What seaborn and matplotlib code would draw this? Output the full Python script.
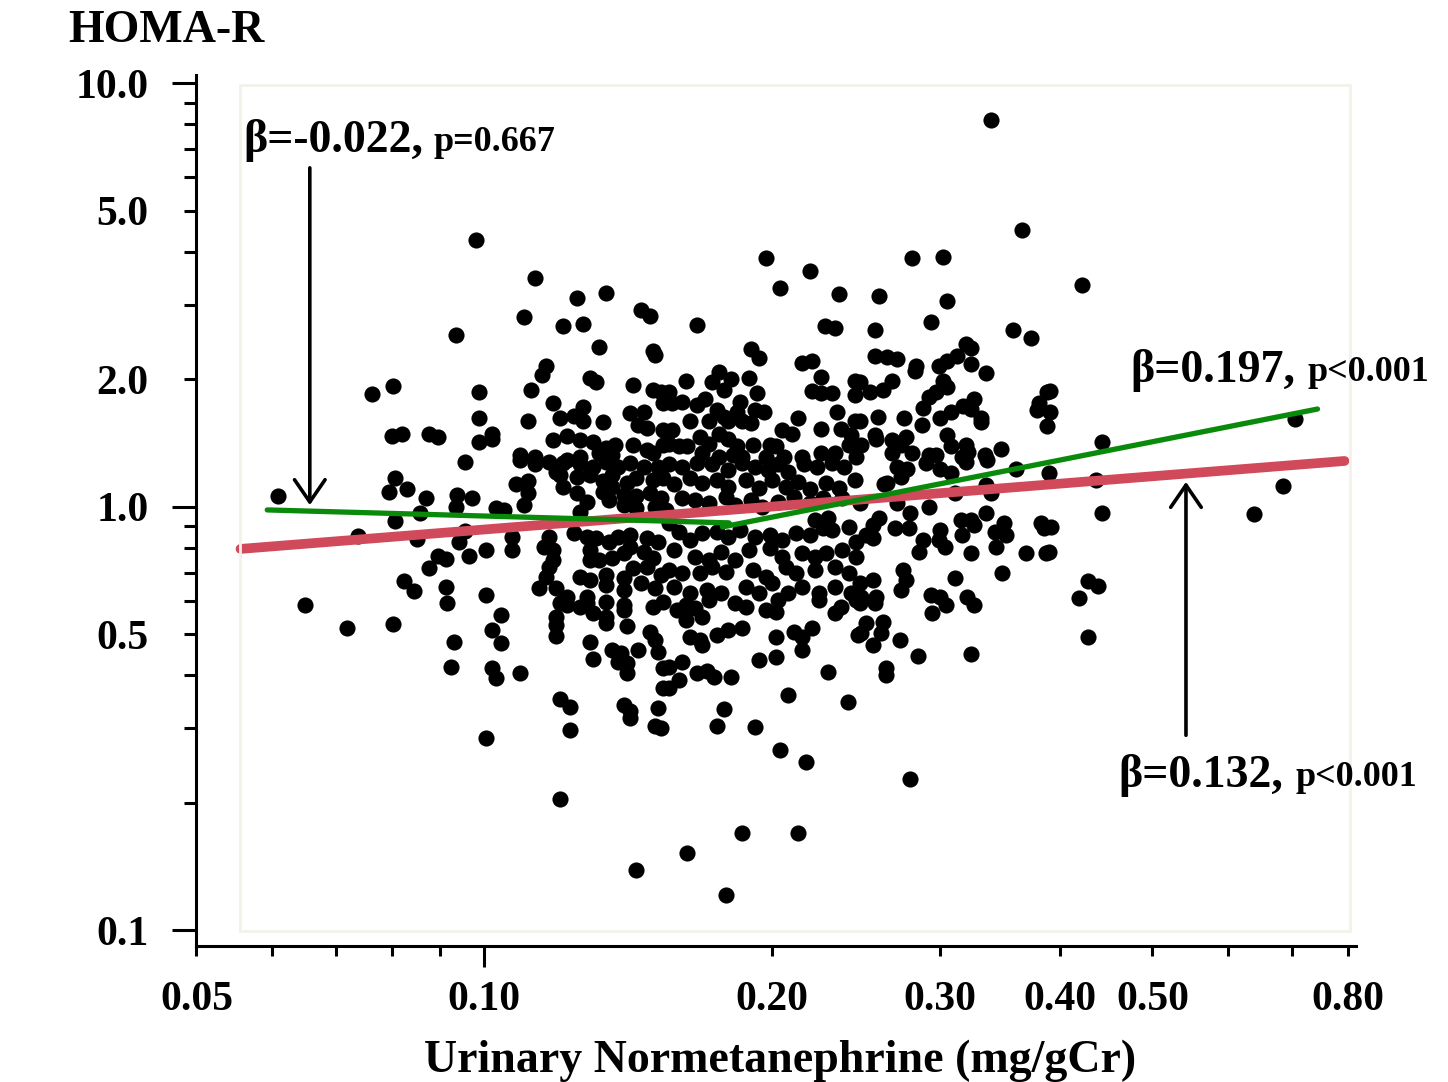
import numpy as np
import pandas as pd
import seaborn as sns
import matplotlib.pyplot as plt
from matplotlib.ticker import LogLocator, FuncFormatter
from matplotlib.patches import Rectangle

# upper-left part of the main cloud
nmn_a = [0.121, 0.127, 0.132, 0.150, 0.151, 0.116, 0.115, 0.129, 0.131, 0.143,
         0.0988, 0.112, 0.150, 0.153, 0.154, 0.118, 0.127, 0.124, 0.120, 0.127,
         0.142, 0.147, 0.111, 0.133, 0.145, 0.148, 0.0988, 0.102, 0.102, 0.0988,
         0.118, 0.122, 0.126, 0.130, 0.154, 0.109, 0.134, 0.137, 0.132, 0.136,
         0.143, 0.148, 0.150, 0.154, 0.113, 0.122, 0.126]
homa_a = [2.67, 2.71, 2.39, 2.34, 2.29, 2.15, 2.05, 2.02, 1.97, 1.94,
          1.87, 1.89, 1.89, 1.87, 1.76, 1.76, 1.72, 1.64, 1.62, 1.60,
          1.67, 1.68, 1.60, 1.585, 1.56, 1.54, 1.62, 1.49, 1.45, 1.42,
          1.44, 1.47, 1.44, 1.42, 1.52, 1.33, 1.38, 1.40, 1.34, 1.33,
          1.40, 1.36, 1.34, 1.40, 1.31, 1.29, 1.31]

# upper-middle
nmn_b = [0.167, 0.227, 0.233, 0.190, 0.194, 0.215, 0.220, 0.225, 0.244, 0.176,
         0.181, 0.173, 0.178, 0.189, 0.1625, 0.220, 0.225, 0.231, 0.193, 0.244,
         0.156, 0.157, 0.161, 0.167, 0.170, 0.185, 0.184, 0.192, 0.196, 0.175,
         0.178, 0.172, 0.180, 0.186, 0.190, 0.164, 0.234, 0.213, 0.244, 0.225,
         0.236, 0.242, 0.205, 0.210, 0.157, 0.156, 0.160, 0.163, 0.168, 0.172,
         0.176, 0.180, 0.184, 0.191, 0.199, 0.202, 0.241, 0.169, 0.176, 0.182,
         0.186, 0.215, 0.225, 0.233, 0.245, 0.197, 0.206]
homa_b = [2.69, 2.67, 2.65, 2.36, 2.25, 2.19, 2.21, 2.03, 1.98, 2.08,
          2.00, 1.97, 1.89, 2.02, 1.98, 1.88, 1.86, 1.86, 1.86, 1.84,
          1.87, 1.76, 1.77, 1.74, 1.80, 1.77, 1.68, 1.69, 1.68, 1.69,
          1.63, 1.60, 1.60, 1.60, 1.58, 1.60, 1.68, 1.62, 1.60, 1.53,
          1.53, 1.48, 1.52, 1.49, 1.52, 1.41, 1.39, 1.39, 1.46, 1.41,
          1.49, 1.45, 1.39, 1.40, 1.40, 1.39, 1.40, 1.34, 1.31, 1.33,
          1.31, 1.31, 1.34, 1.34, 1.31, 1.31, 1.31]

# upper-right
nmn_c = [0.293, 0.256, 0.357, 0.373, 0.319, 0.323, 0.256, 0.264, 0.270, 0.312,
         0.305, 0.299, 0.283, 0.282, 0.323, 0.335, 0.247, 0.253, 0.261, 0.267,
         0.302, 0.305, 0.297, 0.292, 0.325, 0.317, 0.323, 0.331, 0.331, 0.288,
         0.308, 0.300, 0.388, 0.380, 0.379, 0.388, 0.258, 0.275, 0.287, 0.247,
         0.256, 0.257, 0.305, 0.267, 0.276, 0.273, 0.248, 0.308, 0.319, 0.321,
         0.347, 0.267, 0.280, 0.292, 0.297, 0.334, 0.316]
homa_c = [2.74, 2.62, 2.62, 2.50, 2.43, 2.37, 2.27, 2.26, 2.24, 2.27,
          2.21, 2.15, 2.15, 2.09, 2.18, 2.07, 1.97, 1.87, 1.89, 1.98,
          1.98, 1.92, 1.87, 1.82, 1.80, 1.73, 1.70, 1.62, 1.585, 1.71,
          1.68, 1.62, 1.87, 1.76, 1.69, 1.55, 1.63, 1.62, 1.56, 1.60,
          1.48, 1.45, 1.48, 1.44, 1.46, 1.40, 1.40, 1.39, 1.40, 1.35,
          1.37, 1.34, 1.34, 1.33, 1.33, 1.33, 1.31]

# middle-left
nmn_d = [0.109, 0.113, 0.117, 0.121, 0.126, 0.130, 0.134, 0.138, 0.142, 0.147,
         0.152, 0.108, 0.111, 0.111, 0.120, 0.119, 0.125, 0.129, 0.133, 0.136,
         0.136, 0.141, 0.144, 0.150, 0.154, 0.121, 0.125, 0.128, 0.133, 0.135,
         0.140, 0.144, 0.149, 0.153, 0.110, 0.103, 0.105, 0.126, 0.140, 0.144,
         0.151, 0.155, 0.107, 0.1005, 0.107, 0.117, 0.1155, 0.118, 0.118, 0.117,
         0.124, 0.128, 0.131, 0.129, 0.135, 0.138, 0.142, 0.148, 0.152, 0.140,
         0.142, 0.147, 0.150, 0.129, 0.132, 0.136, 0.143, 0.148, 0.153, 0.116,
         0.114, 0.119, 0.126, 0.129, 0.134, 0.134, 0.140, 0.140, 0.146, 0.151,
         0.1005, 0.122, 0.128]
homa_d = [1.29, 1.26, 1.28, 1.27, 1.26, 1.24, 1.28, 1.24, 1.27, 1.24,
          1.24, 1.13, 1.15, 1.08, 1.19, 1.21, 1.18, 1.19, 1.15, 1.19,
          1.115, 1.14, 1.17, 1.16, 1.17, 1.115, 1.08, 1.03, 1.085, 1.04,
          1.07, 1.06, 1.08, 1.05, 1.01, 0.995, 0.985, 0.973, 1.01, 0.995,
          1.00, 0.985, 0.849, 0.79, 0.79, 0.849, 0.804, 0.79, 0.75, 0.721,
          0.868, 0.849, 0.845, 0.79, 0.827, 0.849, 0.858, 0.845, 0.827, 0.779,
          0.804, 0.783, 0.758, 0.75, 0.75, 0.758, 0.717, 0.721, 0.69, 0.683,
          0.644, 0.644, 0.683, 0.672, 0.69, 0.654, 0.679, 0.637, 0.661, 0.644,
          0.62, 0.613, 0.613]

# middle, densest part
nmn_e = [0.156, 0.161, 0.167, 0.173, 0.180, 0.186, 0.192, 0.198, 0.203, 0.208,
         0.216, 0.223, 0.231, 0.238,
         0.158, 0.164, 0.169, 0.175, 0.180, 0.188, 0.194, 0.200, 0.207, 0.213,
         0.219, 0.228, 0.235, 0.244,
         0.161, 0.166, 0.172, 0.179, 0.183, 0.190, 0.195, 0.203, 0.211, 0.219,
         0.226, 0.237,
         0.156, 0.222, 0.229, 0.241,
         0.160, 0.164, 0.169, 0.175, 0.180, 0.185, 0.192, 0.199, 0.205, 0.212,
         0.219, 0.226, 0.231, 0.245,
         0.158, 0.166, 0.172, 0.177, 0.183, 0.189, 0.199, 0.205, 0.215, 0.222,
         0.228, 0.237, 0.245,
         0.156, 0.161, 0.168, 0.173, 0.179, 0.191, 0.197, 0.207, 0.212, 0.222,
         0.233, 0.241,
         0.158, 0.164, 0.171, 0.177, 0.188, 0.194, 0.200, 0.208, 0.215, 0.224,
         0.233, 0.242]
homa_e = [1.26, 1.24, 1.27, 1.26, 1.22, 1.27, 1.24, 1.22, 1.26, 1.21,
          1.26, 1.24, 1.27, 1.24,
          1.13, 1.17, 1.14, 1.16, 1.115, 1.16, 1.11, 1.16, 1.115, 1.146,
          1.10, 1.14, 1.11, 1.16,
          1.05, 1.04, 1.02, 1.056, 1.01, 1.04, 1.00, 1.03, 1.056, 1.02,
          1.05, 1.05,
          0.917, 0.93, 0.94, 0.897,
          0.873, 0.836, 0.868, 0.873, 0.849, 0.88, 0.849, 0.858, 0.836, 0.868,
          0.858, 0.892, 0.882, 0.827,
          0.79, 0.762, 0.75, 0.783, 0.75, 0.79, 0.80, 0.762, 0.779, 0.762,
          0.779, 0.79, 0.762,
          0.71, 0.698, 0.698, 0.721, 0.702, 0.71, 0.683, 0.721, 0.698, 0.71,
          0.721, 0.698,
          0.647, 0.627, 0.637, 0.627, 0.647, 0.627, 0.661, 0.627, 0.647, 0.627,
          0.647, 0.627]

# middle-right
nmn_f = [0.270, 0.277, 0.273, 0.264, 0.262, 0.290, 0.300, 0.308, 0.319, 0.336,
         0.360, 0.335, 0.339, 0.311, 0.247, 0.270, 0.292, 0.279, 0.278, 0.259,
         0.255, 0.251, 0.255, 0.269, 0.315, 0.323, 0.325, 0.335, 0.350, 0.342,
         0.351, 0.382, 0.385, 0.300, 0.299, 0.303, 0.288, 0.285, 0.316, 0.323,
         0.343, 0.369, 0.387, 0.274, 0.276, 0.273, 0.311, 0.348, 0.247, 0.255,
         0.248, 0.257, 0.293, 0.300, 0.320]
homa_f = [1.243, 1.226, 1.177, 1.14, 1.13, 1.27, 1.226, 1.20, 1.277, 1.29,
          1.226, 1.127, 1.08, 1.08, 1.02, 1.02, 1.00, 0.968, 0.892, 0.94,
          0.907, 0.858, 0.845, 0.892, 0.93, 0.93, 0.907, 0.968, 0.917, 0.873,
          0.858, 0.917, 0.892, 0.882, 0.836, 0.804, 0.836, 0.783, 0.858, 0.779,
          0.804, 0.779, 0.779, 0.71, 0.672, 0.637, 0.679, 0.698, 0.661, 0.672,
          0.613, 0.613, 0.62, 0.613, 0.613]

# lower-left
nmn_g = [0.120, 0.122, 0.126, 0.128, 0.130, 0.134, 0.140, 0.140, 0.150, 0.154,
         0.104, 0.119, 0.119, 0.119, 0.134, 0.134, 0.141, 0.102, 0.104, 0.129,
         0.136, 0.139, 0.138, 0.141, 0.141, 0.145, 0.149, 0.151, 0.152, 0.130,
         0.102, 0.103, 0.109, 0.154, 0.154, 0.120, 0.123, 0.140, 0.142, 0.142,
         0.152, 0.151, 0.153, 0.123, 0.1005]
homa_g = [0.593, 0.586, 0.58, 0.593, 0.562, 0.596, 0.586, 0.571, 0.58, 0.596,
          0.556, 0.55, 0.527, 0.497, 0.55, 0.532, 0.524, 0.512, 0.477, 0.48,
          0.459, 0.451, 0.43, 0.428, 0.405, 0.459, 0.507, 0.485, 0.454, 0.437,
          0.417, 0.394, 0.405, 0.417, 0.373, 0.352, 0.337, 0.34, 0.33, 0.317,
          0.335, 0.304, 0.30, 0.297, 0.284]

# lower-middle
nmn_h = [0.159, 0.1625, 0.1625, 0.169, 0.166, 0.172, 0.183, 0.188, 0.197, 0.202,
         0.203, 0.224, 0.233, 0.236, 0.245, 0.246, 0.164, 0.168, 0.169, 0.175,
         0.180, 0.186, 0.202, 0.211, 0.215, 0.220, 0.215, 0.156, 0.161, 0.160,
         0.156, 0.167, 0.171, 0.174, 0.181, 0.194, 0.202, 0.229, 0.208, 0.240,
         0.178, 0.175, 0.192]
homa_h = [0.571, 0.586, 0.541, 0.55, 0.577, 0.603, 0.593, 0.58, 0.571, 0.565,
          0.603, 0.603, 0.562, 0.58, 0.603, 0.498, 0.493, 0.485, 0.471, 0.498,
          0.512, 0.518, 0.493, 0.507, 0.493, 0.518, 0.459, 0.419, 0.43, 0.39,
          0.373, 0.405, 0.41, 0.396, 0.396, 0.434, 0.442, 0.407, 0.359, 0.346,
          0.333, 0.304, 0.302]

# lower-right
nmn_i = [0.247, 0.256, 0.304, 0.294, 0.325, 0.251, 0.261, 0.260, 0.248, 0.255,
         0.272, 0.284, 0.323, 0.263, 0.263]
homa_i = [0.593, 0.593, 0.586, 0.562, 0.586, 0.532, 0.535, 0.504, 0.504, 0.471,
          0.485, 0.445, 0.45, 0.417, 0.401]

# sparse left tail
nmn_j = [0.098, 0.0935, 0.0763, 0.0802, 0.0800, 0.0821, 0.0876, 0.0894, 0.0955, 0.0806,
         0.0796, 0.0831, 0.0870, 0.0608, 0.0937, 0.0935, 0.0972, 0.0856, 0.0806, 0.0737,
         0.0850, 0.0894, 0.0913, 0.0876, 0.0955, 0.0942, 0.0965, 0.0825, 0.0845, 0.0913,
         0.0915, 0.0649, 0.0718, 0.0802, 0.0930, 0.0924]
homa_j = [4.27, 2.55, 1.85, 1.93, 1.47, 1.49, 1.49, 1.46, 1.28, 1.17,
          1.085, 1.10, 1.05, 1.06, 1.07, 1.00, 1.05, 0.968, 0.927, 0.854,
          0.84, 0.766, 0.754, 0.718, 0.878, 0.827, 0.766, 0.669, 0.633, 0.647,
          0.593, 0.587, 0.518, 0.529, 0.48, 0.419]

# sparse right tail
nmn_k = [0.422, 0.391, 0.391, 0.443, 0.390, 0.436, 0.443, 0.392, 0.390, 0.428,
         0.438, 0.419, 0.428, 0.704, 0.684, 0.639]
homa_k = [3.34, 1.88, 1.68, 1.42, 1.20, 1.16, 0.968, 0.897, 0.783, 0.669,
          0.651, 0.610, 0.493, 1.61, 1.12, 0.963]

# high outliers
nmn_l = [0.339, 0.365, 0.197, 0.219, 0.280, 0.302, 0.113, 0.204, 0.235, 0.259,
         0.305, 0.125, 0.134, 0.146, 0.149, 0.110]
homa_l = [8.20, 4.51, 3.87, 3.61, 3.87, 3.89, 3.47, 3.29, 3.18, 3.15,
          3.06, 3.12, 3.20, 2.92, 2.82, 2.81]

# low outliers
nmn_m = [0.204, 0.217, 0.279, 0.120, 0.186, 0.213, 0.163, 0.144, 0.179]
homa_m = [0.267, 0.25, 0.228, 0.204, 0.170, 0.170, 0.152, 0.139, 0.121]

# fitted lines
red_x = [0.0556, 0.794]
red_y = [0.796, 1.284]
green_x = [0.0593, 0.1803, 0.1775, 0.744]
green_y = [0.984, 0.917, 0.897, 1.703]

df = pd.DataFrame({
    'nmn': nmn_a + nmn_b + nmn_c + nmn_d + nmn_e + nmn_f + nmn_g + nmn_h
           + nmn_i + nmn_j + nmn_k + nmn_l + nmn_m,
    'homa': homa_a + homa_b + homa_c + homa_d + homa_e + homa_f + homa_g + homa_h
            + homa_i + homa_j + homa_k + homa_l + homa_m,
})

sns.set_style("white")
plt.rcParams['font.family'] = ['Liberation Serif', 'DejaVu Serif']
plt.rcParams['font.weight'] = 'bold'
plt.rcParams['text.color'] = 'black'

W, H = 1448, 1082
fig = plt.figure(figsize=(W / 100, H / 100), dpi=100)
ax = fig.add_axes([196 / W, 1 - 946 / H, 1160 / W, 871 / H])

# faint panel frame seen in the original
fig.patches.append(Rectangle((240 / W, 1 - 931 / H), 1110 / W, 846 / H,
                             transform=fig.transFigure, fill=False,
                             edgecolor='#f2f2ea', lw=2, zorder=0))

ax.set_xscale('log')
ax.set_yscale('log')

sns.scatterplot(data=df, x='nmn', y='homa', color='black', s=135,
                linewidth=0, ax=ax, legend=False, zorder=2)
sns.lineplot(x=red_x, y=red_y, color='#d04a5b', lw=7, sort=False,
             estimator=None, ax=ax, zorder=3)
sns.lineplot(x=green_x, y=green_y, color='#0a8a0a', lw=3.8, sort=False,
             estimator=None, ax=ax, zorder=4)

ax.set_xlim(0.04995, 0.8163)
ax.set_ylim(0.0919, 10.47)

ax.xaxis.set_major_locator(LogLocator(base=10))
ax.xaxis.set_minor_locator(LogLocator(base=10, subs=np.arange(2, 10)))
ax.yaxis.set_major_locator(LogLocator(base=10))
ax.yaxis.set_minor_locator(LogLocator(base=10, subs=np.arange(2, 10)))

x_minor_labels = [0.05, 0.2, 0.3, 0.4, 0.5, 0.8]
y_minor_labels = [0.5, 2, 5]


def x_minor_fmt(v, pos):
    return f'{v:.2f}' if any(abs(v - t) < 1e-6 for t in x_minor_labels) else ''


def y_minor_fmt(v, pos):
    return f'{v:.1f}' if any(abs(v - t) < 1e-6 for t in y_minor_labels) else ''


ax.xaxis.set_major_formatter(FuncFormatter(lambda v, p: f'{v:.2f}'))
ax.xaxis.set_minor_formatter(FuncFormatter(x_minor_fmt))
ax.yaxis.set_major_formatter(FuncFormatter(lambda v, p: f'{v:.1f}'))
ax.yaxis.set_minor_formatter(FuncFormatter(y_minor_fmt))

# seaborn's white style hides tick marks, switch them back on
ax.tick_params(which='both', bottom=True, left=True, direction='out',
               color='black', width=2.2, labelsize=30, labelcolor='black')
ax.tick_params(axis='x', which='major', length=15, pad=10)
ax.tick_params(axis='x', which='minor', length=7, pad=18)
ax.tick_params(axis='y', which='major', length=17, pad=17)
ax.tick_params(axis='y', which='minor', length=9, pad=25)

for side in ['top', 'right']:
    ax.spines[side].set_visible(False)
for side in ['left', 'bottom']:
    ax.spines[side].set_color('black')
    ax.spines[side].set_linewidth(2.2)

ax.set_xlabel('')
ax.set_ylabel('')

# arrows to the fitted lines
arrow = dict(arrowstyle='->,head_length=0.8,head_width=0.55', lw=2.6,
             color='black', shrinkA=0, shrinkB=0, mutation_scale=20)
ax.annotate('', xy=(0.0657, 1.01), xytext=(0.0657, 6.32), arrowprops=arrow)
ax.annotate('', xy=(0.542, 1.146), xytext=(0.542, 0.289), arrowprops=arrow)

# annotations
txt = dict(fontweight='bold', color='black', va='baseline')
fig.text(243 / W, 1 - 152 / H, 'β=-0.022,', fontsize=33, **txt)
fig.text(433 / W, 1 - 151 / H, 'p=0.667', fontsize=26, **txt)
fig.text(1130 / W, 1 - 382 / H, 'β=0.197,', fontsize=33, **txt)
fig.text(1308 / W, 1 - 381 / H, 'p<0.001', fontsize=26, **txt)
fig.text(1118 / W, 1 - 787 / H, 'β=0.132,', fontsize=33, **txt)
fig.text(1296 / W, 1 - 786 / H, 'p<0.001', fontsize=26, **txt)

fig.text(68 / W, 1 - 42 / H, 'HOMA-R', fontsize=33, **txt)
fig.text(780 / W, 1 - 1072 / H, 'Urinary Normetanephrine (mg/gCr)', fontsize=33,
         ha='center', **txt)

fig.savefig('out.png', dpi=100, facecolor='white')
